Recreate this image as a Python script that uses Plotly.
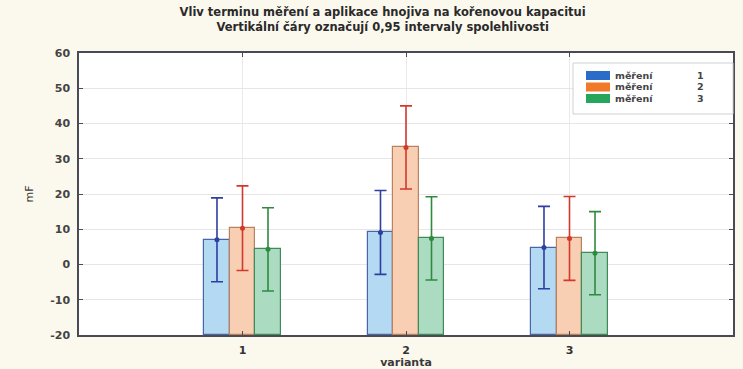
import plotly.graph_objects as go

categories = [1, 2, 3]
series_names = ["měření", "měření", "měření"]
series_ids = ["1", "2", "3"]
means = [
    [7.0, 9.1, 4.8],
    [10.3, 33.2, 7.4],
    [4.3, 7.4, 3.2],
]
ci_half = [
    [11.9, 11.9, 11.7],
    [12.0, 11.8, 11.9],
    [11.8, 11.8, 11.8],
]
y_ticks = [-20, -10, 0, 10, 20, 30, 40, 50, 60]

fill_colors = ["#b3d9f3", "#f9cfb3", "#abdcc2"]
edge_colors = ["#4a64a8", "#b8825e", "#3e8a58"]
err_colors = ["#2f3f9f", "#d2382c", "#2f8a3f"]
legend_colors = ["#2a6cc8", "#f07a2a", "#27a55a"]

BASE = -20
BAR_W = 0.156
offsets = [-BAR_W, 0.0, BAR_W]
FONT = "DejaVu Sans"

W, H = 743, 369
ML, MR, MT, MB = 79, 10, 53, 34
PW, PH = W - ML - MR, H - MT - MB


def px(x):
    return (x - ML) / PW


def py(y):
    return (H - MB - y) / PH


fig = go.Figure()

for i in range(3):
    xs = [c + offsets[i] for c in categories]
    fig.add_trace(go.Bar(
        x=xs, y=[m - BASE for m in means[i]], base=BASE, width=BAR_W,
        marker=dict(color=fill_colors[i], line=dict(color=edge_colors[i], width=1.2)),
        showlegend=False, hoverinfo="skip",
    ))
    fig.add_trace(go.Scatter(
        x=xs, y=means[i], mode="markers",
        marker=dict(color=err_colors[i], size=5),
        error_y=dict(type="data", array=ci_half[i], color=err_colors[i],
                     thickness=1.6, width=6),
        showlegend=False,
    ))

# manual legend (compact, like the original)
shapes = [dict(type="rect", xref="paper", yref="paper",
               x0=px(573), x1=px(733), y0=py(114), y1=py(63),
               fillcolor="#ffffff", line=dict(color="#d0d0d0", width=1), layer="above")]
annotations = []
row_centers = [75.5, 87.0, 98.5]
for i in range(3):
    yc = row_centers[i]
    shapes.append(dict(type="rect", xref="paper", yref="paper",
                       x0=px(586), x1=px(610), y0=py(yc + 4.5), y1=py(yc - 4.5),
                       fillcolor=legend_colors[i], line=dict(width=0), layer="above"))
    annotations.append(dict(xref="paper", yref="paper", x=px(613), y=py(yc),
                            xanchor="left", yanchor="middle", showarrow=False,
                            text="<b>" + series_names[i] + "</b>",
                            font=dict(family=FONT, size=9.5, color="#444444")))
    annotations.append(dict(xref="paper", yref="paper", x=px(700), y=py(yc),
                            xanchor="center", yanchor="middle", showarrow=False,
                            text="<b>" + series_ids[i] + "</b>",
                            font=dict(family=FONT, size=9.5, color="#444444")))

fig.update_layout(
    width=W, height=H,
    margin=dict(l=ML, r=MR, t=MT, b=MB, autoexpand=False),
    paper_bgcolor="#fbf9ee",
    plot_bgcolor="#ffffff",
    font=dict(family=FONT, size=11, color="#2a2a2a"),
    title=dict(
        text="<b>Vliv terminu měření a aplikace hnojiva na kořenovou kapacitui</b><br><b>Vertikální čáry označují 0,95 intervaly spolehlivosti</b>",
        x=0.515, xanchor="center", y=1 - 16 / 369, yanchor="top", yref="container",
        font=dict(family=FONT, size=11.5, color="#2a2a2a"),
    ),
    barmode="overlay",
    bargap=0,
    showlegend=False,
    shapes=shapes,
    annotations=annotations,
    xaxis=dict(
        range=[0, 4], tickvals=categories, ticktext=[str(c) for c in categories],
        showgrid=True, gridcolor="#efe8e8", gridwidth=1, automargin=False,
        zeroline=False, showline=True, linecolor="#4a4a55", linewidth=1.5,
        mirror="ticks", ticks="inside", ticklen=4, tickcolor="#4a4a55",
        ticklabelstandoff=4,
        title=dict(text="<b>varianta</b>", standoff=3, font=dict(size=11, color="#3a3a3a")),
        tickfont=dict(size=11, color="#333333", weight="bold"),
    ),
    yaxis=dict(
        range=[-20, 60], tickvals=y_ticks, ticktext=[str(t) for t in y_ticks],
        showgrid=True, gridcolor="#e6e6e6", gridwidth=1, automargin=False,
        zeroline=False, showline=True, linecolor="#4a4a55", linewidth=1.5,
        mirror="ticks", ticks="inside", ticklen=4, tickcolor="#4a4a55",
        ticklabelstandoff=5,
        title=dict(text="mF", standoff=14, font=dict(size=11, color="#3a3a3a")),
        tickfont=dict(size=11, color="#444444", weight="bold"),
    ),
)

fig.write_html("out.html")
